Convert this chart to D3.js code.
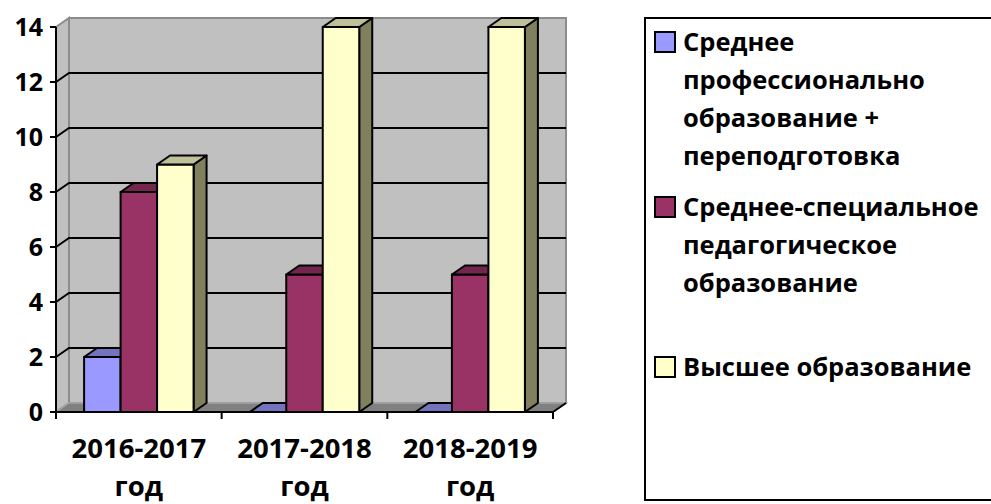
<!DOCTYPE html>
<html>
<head>
<meta charset="utf-8">
<script src="https://cdn.jsdelivr.net/npm/d3@7"></script>
<style>
  body { margin: 0; background: #fff; }
  text { font-family: "Open Sans", sans-serif; font-weight: 700; fill: #000; }
</style>
</head>
<body>
<svg id="chart" width="991" height="504"></svg>
<script>
// categories and values
const categories = ["2016-2017 год", "2017-2018 год", "2018-2019 год"];
const seriesNames = [
  "Среднее профессионально образование + переподготовка",
  "Среднее-специальное педагогическое образование",
  "Высшее образование"
];
// legend wraps the names like this
const legendLines = [
  ["Среднее", "профессионально", "образование +", "переподготовка"],
  ["Среднее-специальное", "педагогическое", "образование"],
  ["Высшее образование"]
];
const srednee = [2, 0, 0];
const specialnoe = [8, 5, 5];
const vysshee = [9, 14, 14];
const yTicks = [0, 2, 4, 6, 8, 10, 12, 14];

const values = [srednee, specialnoe, vysshee];
const fronts = ["#9999ff", "#993366", "#ffffcc"];
const tops = ["#7373bf", "#73264d", "#bfbf99"];
const sides = ["#4d4d80", "#4d1a33", "#80805f"];

const svg = d3.select("#chart");

// plot box (front plane) and the 3d depth offset
const left = 56, right = 553;
const dx = 13, dy = -9;

const y = d3.scaleLinear().domain([0, 14]).range([412, 27]);
const x = d3.scaleBand().domain(categories).range([left, right]);
const xs = d3.scaleBand().domain(d3.range(seriesNames.length))
  .range([0, x.bandwidth()]).paddingInner(0).paddingOuter(0.77);

const y0 = y(0), yMax = y(14);
const pts = p => p.map(d => d.join(",")).join(" ");

// walls
svg.append("polygon")
  .attr("points", pts([[left + dx, yMax + dy], [right + dx, yMax + dy], [right + dx, y0 + dy], [left + dx, y0 + dy]]))
  .attr("fill", "#c0c0c0").attr("stroke", "#8c8c8c").attr("stroke-width", 2);
svg.append("polygon")
  .attr("points", pts([[left, yMax], [left + dx, yMax + dy], [left + dx, y0 + dy], [left, y0]]))
  .attr("fill", "#c0c0c0").attr("stroke", "#8c8c8c").attr("stroke-width", 2);

// gridlines on side and back wall
svg.selectAll(".grid")
  .data(yTicks.filter(t => t > 0 && t < 14))
  .enter().append("polyline")
  .attr("class", "grid")
  .attr("points", t => pts([[left, y(t)], [left + dx, y(t) + dy], [right + dx, y(t) + dy]]))
  .attr("fill", "none").attr("stroke", "#000").attr("stroke-width", 2);

// floor
svg.append("polygon")
  .attr("points", pts([[left, y0], [left + dx, y0 + dy], [right + dx, y0 + dy], [right, y0]]))
  .attr("fill", "#808080").attr("stroke", "#a6a6a6").attr("stroke-width", 1.5);
svg.append("line")
  .attr("x1", right).attr("y1", y0).attr("x2", right + dx).attr("y2", y0 + dy)
  .attr("stroke", "#000").attr("stroke-width", 2);

// bars, left to right so each front hides the previous side
categories.forEach((cat, ci) => {
  values.forEach((vals, si) => {
    const v = vals[ci];
    const xl = x(cat) + xs(si), xr = xl + xs.bandwidth(), yv = y(v);
    const g = svg.append("g").attr("stroke", "#000").attr("stroke-width", 2).attr("stroke-linejoin", "round");
    g.append("polygon")
      .attr("points", pts([[xr, yv], [xr + dx, yv + dy], [xr + dx, y0 + dy], [xr, y0]]))
      .attr("fill", sides[si]);
    if (v > 0) {
      g.append("rect")
        .attr("x", xl).attr("y", yv).attr("width", xs.bandwidth()).attr("height", y0 - yv)
        .attr("fill", fronts[si]);
    }
    g.append("polygon")
      .attr("points", pts([[xl, yv], [xl + dx, yv + dy], [xr + dx, yv + dy], [xr, yv]]))
      .attr("fill", tops[si]);
  });
});

// axes
svg.append("line")
  .attr("x1", left).attr("y1", yMax).attr("x2", left).attr("y2", y0 + 7)
  .attr("stroke", "#000").attr("stroke-width", 2);
svg.append("line")
  .attr("x1", left).attr("y1", y0).attr("x2", right).attr("y2", y0)
  .attr("stroke", "#000").attr("stroke-width", 2);

svg.selectAll(".ytick")
  .data(yTicks)
  .enter().append("line")
  .attr("x1", left - 6).attr("x2", left)
  .attr("y1", d => y(d)).attr("y2", d => y(d))
  .attr("stroke", "#000").attr("stroke-width", 2);

svg.selectAll(".ylab")
  .data(yTicks)
  .enter().append("text")
  .attr("x", left - 13).attr("y", d => y(d))
  .attr("dy", "0.36em")
  .attr("text-anchor", "end")
  .style("font-size", "25px")
  .text(d => d);

svg.selectAll(".xtick")
  .data(categories.slice(1).concat([null]))
  .enter().append("line")
  .attr("x1", d => d ? x(d) : right).attr("x2", d => d ? x(d) : right)
  .attr("y1", y0).attr("y2", y0 + 7)
  .attr("stroke", "#000").attr("stroke-width", 2);

categories.forEach(cat => {
  const words = cat.split(" ");
  const t = svg.append("text")
    .attr("x", x(cat) + x.bandwidth() / 2)
    .attr("text-anchor", "middle")
    .style("font-size", "27.5px");
  words.forEach((w, i) => {
    t.append("tspan").attr("x", x(cat) + x.bandwidth() / 2).attr("y", 458 + i * 38).text(w);
  });
});

// legend
const legend = svg.append("g");
legend.append("rect")
  .attr("x", 645).attr("y", 18).attr("width", 400).attr("height", 482)
  .attr("fill", "#fff").attr("stroke", "#000").attr("stroke-width", 2);

const entryY = [42, 207, 367];
legendLines.forEach((lines, i) => {
  legend.append("rect")
    .attr("x", 655).attr("y", entryY[i] - 10).attr("width", 20).attr("height", 20)
    .attr("fill", fronts[i]).attr("stroke", "#000").attr("stroke-width", 2);
  lines.forEach((line, j) => {
    legend.append("text")
      .attr("x", 683).attr("y", entryY[i] + j * 38)
      .attr("dy", "0.36em")
      .style("font-size", "25.5px")
      .text(line);
  });
});
</script>
</body>
</html>
